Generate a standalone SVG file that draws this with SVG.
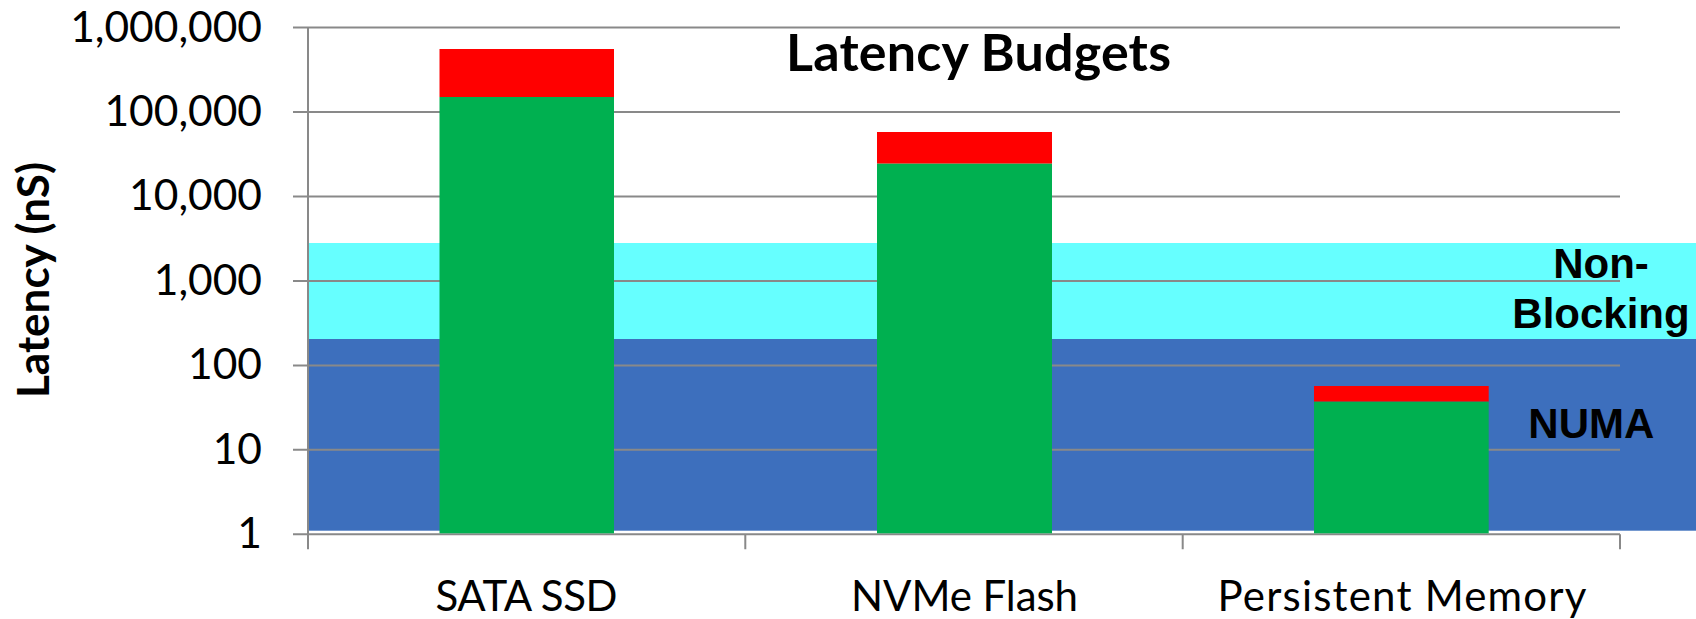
<svg xmlns="http://www.w3.org/2000/svg" width="1696" height="619" viewBox="0 0 1696 619">
  <style>
    .grid { stroke: #898989; stroke-width: 2; fill: none; }
    .ylab { font-family: Lato, "Liberation Sans", sans-serif; font-size: 42.5px; fill: #000; text-anchor: end; }
    .cat { font-family: Lato, "Liberation Sans", sans-serif; font-size: 42px; fill: #000; text-anchor: middle; }
    .zone { font-family: "Liberation Sans", Arial, sans-serif; font-weight: bold; font-size: 42px; fill: #000; }
    .budget { fill: #ff0000; }
    .base { fill: #00b050; }
  </style>
  <rect width="1696" height="619" fill="#ffffff"/>

  <!-- latency zones -->
  <g id="zones">
    <rect x="309" y="243" width="1387" height="96" fill="#66ffff"/>
    <rect x="309" y="339" width="1387" height="191.7" fill="#3d6fbd"/>
  </g>

  <!-- log-scale grid and axes -->
  <g id="grid" class="grid">
    <path d="M293 27.5H1620M293 112H1620M293 196.4H1620M293 280.9H1620M293 365.4H1620M293 449.8H1620"/>
    <path d="M293 534.3H1620"/>
    <path d="M308 27.5V549.3M745.3 534.3V549.3M1182.7 534.3V549.3M1620 534.3V549.3"/>
  </g>

  <!-- stacked bars: base latency (green) + budget (red) -->
  <g id="bar-sata">
    <rect class="budget" x="439.5" y="49" width="174.5" height="48"/>
    <rect class="base" x="439.5" y="97" width="174.5" height="436.3"/>
  </g>
  <g id="bar-nvme">
    <rect class="budget" x="877" y="132" width="175" height="31.7"/>
    <rect class="base" x="877" y="163.7" width="175" height="369.6"/>
  </g>
  <g id="bar-pmem">
    <rect class="budget" x="1314" y="386" width="174.7" height="15.7"/>
    <rect class="base" x="1314" y="401.7" width="174.7" height="131.6"/>
  </g>

  <!-- y axis tick labels -->
  <g id="y-labels" class="ylab">
    <text x="262" y="41.5">1,000,000</text>
    <text x="262" y="126">100,000</text>
    <text x="262" y="210.4">10,000</text>
    <text x="262" y="294.9">1,000</text>
    <text x="262" y="379.4">100</text>
    <text x="262" y="463.8">10</text>
    <text x="262" y="548.3">1</text>
  </g>

  <g id="y-title">
    <text transform="translate(49,280) rotate(-90)" text-anchor="middle" font-family="Lato, 'Liberation Sans', sans-serif" font-weight="bold" font-size="44" fill="#000" textLength="236">Latency (nS)</text>
  </g>

  <!-- category labels -->
  <g id="x-labels" class="cat">
    <text x="526.5" y="610.5" textLength="182">SATA SSD</text>
    <text x="964.5" y="610.5" textLength="227">NVMe Flash</text>
    <text x="1402" y="610.5" textLength="369">Persistent Memory</text>
  </g>

  <g id="title">
    <text x="786" y="71" font-family="Lato, 'Liberation Sans', sans-serif" font-weight="bold" font-size="52" fill="#000" textLength="385">Latency Budgets</text>
  </g>

  <!-- zone labels -->
  <g id="zone-labels" class="zone">
    <text x="1601" y="278.3" text-anchor="middle">Non-</text>
    <text x="1601" y="328.3" text-anchor="middle">Blocking</text>
    <text x="1528.3" y="437.7">NUMA</text>
  </g>
</svg>
